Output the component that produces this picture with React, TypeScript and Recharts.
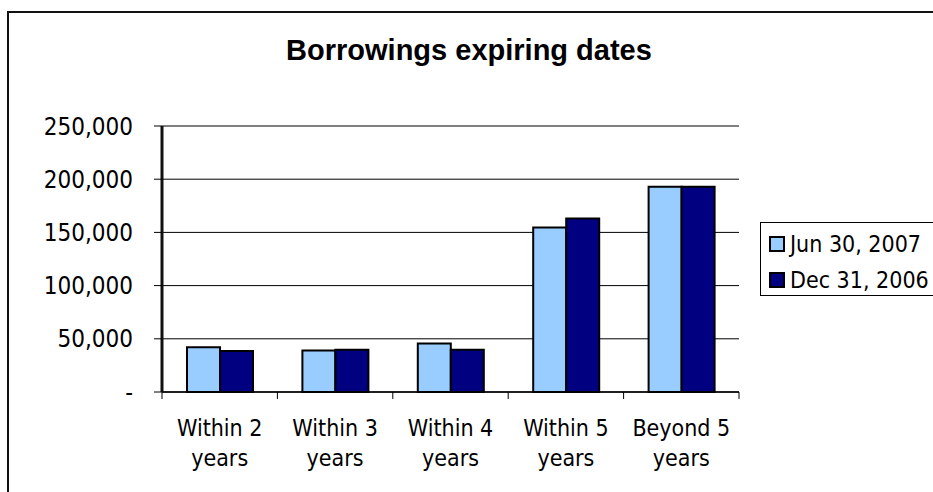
import { BarChart, Bar, XAxis, YAxis, CartesianGrid, Legend } from 'recharts';

const CATEGORIES = ['Within 2 years', 'Within 3 years', 'Within 4 years', 'Within 5 years', 'Beyond 5 years'];
const JUN_2007 = [42000, 39000, 45500, 154500, 193000];
const DEC_2006 = [38500, 39800, 39800, 163000, 193000];
const Y_TICKS = [0, 50000, 100000, 150000, 200000, 250000];
const SERIES_ORDER = ['jun', 'dec'];

const data = CATEGORIES.map((name, i) => ({ name, jun: JUN_2007[i], dec: DEC_2006[i] }));

const LABEL_FONT = '"DejaVu Sans Condensed", "DejaVu Sans", Tahoma, sans-serif';
const TITLE_FONT = '"Liberation Sans", Arial, sans-serif';

const fmtY = (v: number) => (v === 0 ? '-' : v.toLocaleString('en-US'));

// two-line category label plus the tick marks on the category edges (Excel style)
function CategoryTick({ x, y, payload, index, visibleTicksCount }: any) {
  const label: string = payload.value;
  const cut = label.lastIndexOf(' ');
  const half = payload.offset || 0;
  const last = index === (visibleTicksCount ?? CATEGORIES.length) - 1;
  return (
    <g>
      {half > 0 && <line x1={x - half} x2={x - half} y1={y} y2={y + 7} stroke="#000" />}
      {half > 0 && last && <line x1={x + half} x2={x + half} y1={y} y2={y + 7} stroke="#000" />}
      <text x={x} y={y} textAnchor="middle" fill="#000" fontSize={23} fontFamily={LABEL_FONT} style={{ fontStretch: 'condensed' }}>
        <tspan x={x} dy={44}>{label.slice(0, cut)}</tspan>
        <tspan x={x} dy={30}>{label.slice(cut + 1)}</tspan>
      </text>
    </g>
  );
}

function LegendBox({ payload }: any) {
  const items = [...(payload || [])].sort(
    (a: any, b: any) => SERIES_ORDER.indexOf(a.dataKey) - SERIES_ORDER.indexOf(b.dataKey)
  );
  return (
    <div
      style={{
        boxSizing: 'border-box',
        width: 200,
        height: 74,
        border: '1.5px solid #000',
        background: '#fff',
        padding: '3px 0 0 8px',
        fontFamily: LABEL_FONT,
        fontStretch: 'condensed',
        fontSize: 23,
        color: '#000',
      }}
    >
      {items.map((p: any) => (
        <div key={p.value} style={{ display: 'flex', alignItems: 'center', height: 36 }}>
          <span
            style={{
              display: 'inline-block',
              boxSizing: 'border-box',
              width: 16,
              height: 16,
              background: p.color,
              border: '2px solid #000',
              marginRight: 5,
            }}
          />
          <span>{p.value}</span>
        </div>
      ))}
    </div>
  );
}

export default function App() {
  return (
    <div style={{ position: 'absolute', left: 0, top: 0, width: 933, height: 492, overflow: 'hidden', background: '#fff' }}>
      <BarChart
        width={933}
        height={492}
        data={data}
        margin={{ top: 126, right: 194, bottom: 0, left: 0 }}
        barSize={33}
        barGap={0}
      >
        <CartesianGrid stroke="#000" vertical={false} />
        <XAxis
          dataKey="name"
          height={100}
          interval={0}
          tick={<CategoryTick />}
          tickLine={false}
          tickSize={0}
          tickMargin={0}
          axisLine={{ stroke: '#000', strokeWidth: 1.5 }}
        />
        <YAxis
          width={162}
          domain={[0, 250000]}
          ticks={Y_TICKS}
          tickFormatter={fmtY}
          tickSize={8}
          tickMargin={21}
          stroke="#000"
          axisLine={{ stroke: '#111', strokeWidth: 3 }}
          tickLine={{ stroke: '#000' }}
          tick={{ fill: '#000', fontSize: 24, fontFamily: LABEL_FONT, style: { fontStretch: 'condensed' } }}
        />
        <Legend
          layout="vertical"
          align="center"
          verticalAlign="middle"
          wrapperStyle={{ left: 760, top: 222, width: 200 }}
          content={<LegendBox />}
        />
        <Bar dataKey="jun" name="Jun 30, 2007" fill="#99CCFF" stroke="#000" strokeWidth={2} isAnimationActive={false} />
        <Bar dataKey="dec" name="Dec 31, 2006" fill="#000080" stroke="#000" strokeWidth={2} isAnimationActive={false} />
      </BarChart>
      <svg width={933} height={492} style={{ position: 'absolute', left: 0, top: 0, pointerEvents: 'none' }}>
        <rect x={8} y={12} width={960} height={520} fill="none" stroke="#111" strokeWidth={2} />
        <text x={469} y={60} textAnchor="middle" fontFamily={TITLE_FONT} fontWeight="bold" fontSize={29} fill="#000">
          Borrowings expiring dates
        </text>
      </svg>
    </div>
  );
}
